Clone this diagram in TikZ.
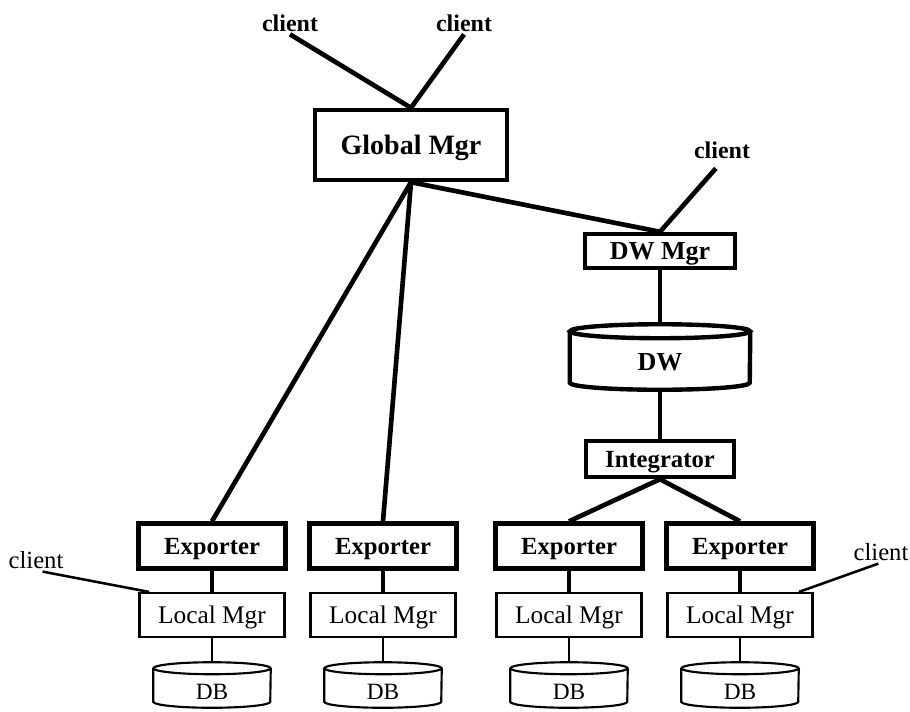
\documentclass[tikz,border=0pt]{standalone}
\usepackage{fontspec}
\setmainfont{Liberation Serif}
\usetikzlibrary{calc}

% open cylinder outline around a named (undrawn) node:
% #1 node, #2 half width, #3 radius of the end ellipse, #4 line style
\newcommand\cylout[4]{%
  \draw[#4] ([yshift=-#3]#1.north west) -- ([yshift=#3]#1.south west)
    arc[start angle=180,end angle=360,x radius=#2,y radius=#3]
    -- ([yshift=-#3]#1.north east);
  \draw[#4] ([yshift=-#3]#1.north) ellipse[x radius=#2,y radius=#3];
}

\begin{document}
\begin{tikzpicture}[x=0.75pt,y=-0.75pt,
  box/.style={draw, inner sep=0pt, text depth=0pt, text height=12.5pt},
  bbox/.style={box, line width=3.3pt, font=\bfseries\fontsize{18.5}{20}\selectfont},
  expbox/.style={bbox, minimum width=110pt, minimum height=33.75pt},
  lbox/.style={box, line width=1.6pt, font=\fontsize{19}{21}\selectfont,
               minimum width=108.75pt, minimum height=33pt},
  dbnode/.style={inner sep=0pt, text depth=0pt, text height=21pt,
               font=\fontsize{17.5}{19}\selectfont,
               minimum width=87.75pt, minimum height=33.75pt},
  bclient/.style={font=\bfseries\fontsize{18}{20}\selectfont, inner sep=2pt},
  rclient/.style={font=\fontsize{18.5}{20}\selectfont, inner sep=2pt},
  heavy/.style={line width=3.5pt},
  medium/.style={line width=2.5pt},
  light/.style={line width=1.6pt},
  clientline/.style={line width=1.9pt},
]
\useasboundingbox (0,0) rectangle (910,711);

% upper part: global manager and the warehouse branch
\node[bclient] (c1) at (290,23) {client};
\node[bclient] (c2) at (464,23) {client};
\node[bbox, font=\bfseries\fontsize{21}{24}\selectfont, text height=14pt,
      minimum width=144pt, minimum height=52.5pt] (gm) at (411,145) {Global Mgr};
\node[bclient] (c3) at (722,150) {client};
\node[bbox, font=\bfseries\fontsize{19.5}{22}\selectfont,
      minimum width=112.5pt, minimum height=25.5pt] (dwm) at (660,251) {DW Mgr};
\node[inner sep=0pt, text depth=0pt, text height=20pt,
      font=\bfseries\fontsize{19.5}{22}\selectfont,
      minimum width=135pt, minimum height=48.75pt] (dw) at (660,357) {DW};
\cylout{dw}{67.5pt}{5.25pt}{line width=3.3pt}
\node[bbox, minimum width=111pt, minimum height=27pt] (int) at (660,459) {Integrator};

% sources: exporter, local manager and database per column
\node[expbox] (ex1) at (212,546) {Exporter};
\node[expbox] (ex2) at (383,546) {Exporter};
\node[expbox] (ex3) at (569,546) {Exporter};
\node[expbox] (ex4) at (740,546) {Exporter};

\node[lbox] (lm1) at (212,615) {Local Mgr};
\node[lbox] (lm2) at (383,615) {Local Mgr};
\node[lbox] (lm3) at (569,615) {Local Mgr};
\node[lbox] (lm4) at (740,615) {Local Mgr};

\node[dbnode] (db1) at (212,685) {DB};
\node[dbnode] (db2) at (383,685) {DB};
\node[dbnode] (db3) at (569,685) {DB};
\node[dbnode] (db4) at (740,685) {DB};
\foreach \i in {1,...,4}{\cylout{db\i}{43.875pt}{4.5pt}{line width=1.6pt}}

\node[rclient] (cl) at (36,560) {client};
\node[rclient] (cr) at (881,552) {client};

% connectors
\draw[heavy] (c1.south) -- (gm.north);
\draw[heavy] (c2.south) -- (gm.north);
\draw[heavy] (gm.south) -- (ex1.north);
\draw[heavy] (gm.south) -- (ex2.north);
\draw[heavy] (gm.south) -- (dwm.north);
\draw[heavy, shorten <=7pt] (c3.south) -- (dwm.north);
\draw[heavy] (dwm.south) -- (dw.north);
\draw[heavy] (dw.south) -- (int.north);
\draw[heavy] (int.south) -- (ex3.north);
\draw[heavy] (int.south) -- (ex4.north);
\foreach \i in {1,...,4}{
  \draw[medium] (ex\i.south) -- (lm\i.north);
  \draw[light] (lm\i.south) -- (db\i.north);
}
\draw[clientline] ([xshift=5pt]cl.south) -- ([xshift=8pt]lm1.north west);
\draw[clientline] ([xshift=-2pt]cr.south) -- ([xshift=-11pt]lm4.north east);
\end{tikzpicture}
\end{document}
